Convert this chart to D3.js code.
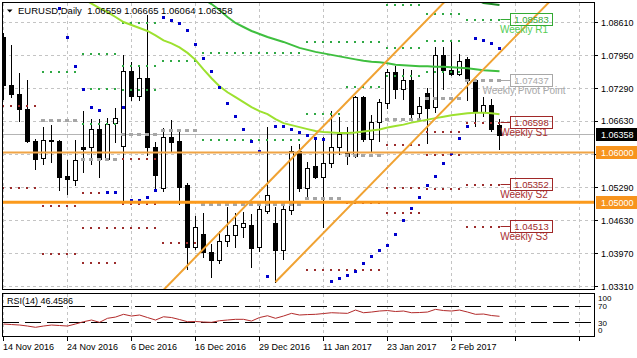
<!DOCTYPE html>
<html><head><meta charset="utf-8">
<script src="https://cdn.jsdelivr.net/npm/d3@7"></script>
<style>html,body{margin:0;padding:0;background:#fff;overflow:hidden}svg{display:block;font-family:"Liberation Sans",Arial,sans-serif}</style>
</head><body><svg id="c" width="637" height="358"></svg>
<script>
// ---------- DATA ----------
const dateLabels = ["14 Nov 2016","24 Nov 2016","6 Dec 2016","16 Dec 2016","29 Dec 2016","11 Jan 2017","23 Jan 2017","2 Feb 2017"];
const dateIdx = [0,8,16,24,32,40,48,56];
const gridIdx = [0,8,16,24,32,40,48,56,64,72];
const priceTicks = [1.0861,1.0795,1.0729,1.0663,1.0597,1.0529,1.0463,1.0397,1.0331];

const open  = [1.0832,1.0735,1.0718,1.0688,1.0624,1.0589,1.0625,1.0624,1.0552,1.0544,1.0612,1.0611,1.0648,1.0587,1.0659,1.0613,1.0763,1.0713,1.0750,1.0611,1.0528,1.0632,1.0624,1.0534,1.0411,1.0437,1.0400,1.0385,1.0423,1.0435,1.0451,1.0455,1.0410,1.0482,1.0458,1.0405,1.0485,1.0603,1.0528,1.0572,1.0550,1.0579,1.0611,1.0599,1.0592,1.0711,1.0628,1.0661,1.0700,1.0761,1.0728,1.0745,1.0679,1.0719,1.0691,1.0795,1.0766,1.0757,1.0787,1.0745,1.0681,1.0696,1.06559];
const high  = [1.0840,1.0815,1.0759,1.0745,1.0628,1.0651,1.0656,1.0626,1.0584,1.0625,1.0684,1.0668,1.0668,1.0670,1.0690,1.0795,1.0781,1.0775,1.0876,1.0621,1.0649,1.0666,1.0648,1.0538,1.0473,1.0479,1.0417,1.0443,1.0490,1.0478,1.0480,1.0477,1.0496,1.0652,1.0490,1.0496,1.0614,1.0618,1.0581,1.0631,1.0631,1.0684,1.0672,1.0651,1.0714,1.0714,1.0676,1.0708,1.0768,1.0773,1.0768,1.0765,1.0711,1.0730,1.0811,1.0811,1.0826,1.0798,1.0791,1.0747,1.0711,1.0708,1.06665];
const low   = [1.0708,1.0711,1.0664,1.0622,1.0567,1.0577,1.0581,1.0524,1.0516,1.0534,1.0560,1.0577,1.0550,1.0584,1.0621,1.0500,1.0705,1.0705,1.0594,1.0524,1.0522,1.0604,1.0496,1.0366,1.0407,1.0390,1.0350,1.0378,1.0413,1.0410,1.0430,1.0370,1.0403,1.0478,1.0340,1.0387,1.0477,1.0522,1.0510,1.0549,1.0451,1.0570,1.0596,1.0577,1.0591,1.0624,1.0604,1.0624,1.0690,1.0710,1.0708,1.0671,1.0668,1.0619,1.0682,1.0728,1.0755,1.0755,1.0705,1.0654,1.0674,1.0644,1.06064];
const close = [1.0735,1.0718,1.0688,1.0624,1.0587,1.0625,1.0623,1.0550,1.0546,1.0585,1.0608,1.0648,1.0587,1.0658,1.0670,1.0763,1.0713,1.0750,1.0611,1.0554,1.0632,1.0621,1.0530,1.0410,1.0450,1.0400,1.0385,1.0423,1.0435,1.0455,1.0458,1.0409,1.0487,1.0515,1.0405,1.0486,1.0603,1.0528,1.0569,1.0550,1.0579,1.0611,1.0638,1.0592,1.0712,1.0628,1.0661,1.0701,1.0761,1.0728,1.0745,1.0678,1.0694,1.0690,1.0795,1.0765,1.0757,1.0783,1.0745,1.0681,1.0696,1.0648,1.06358];

const N = 63;
const maFast = [null,null,null,null,null,null,null,null,null,1.0916,1.0908,1.0899,1.0890,1.0882,1.0872,1.0862,1.0856,1.0850,1.0844,1.0835,1.0825,1.0819,1.0811,1.0800,1.0786,1.0767,1.0749,1.0733,1.0721,1.0711,1.0701,1.0691,1.0683,1.0677,1.0667,1.0659,1.0655,1.0651,1.0647,1.0643,1.0641,1.0640,1.0639,1.0639,1.0640,1.0642,1.0644,1.0646,1.0650,1.0653,1.0656,1.0660,1.0663,1.0666,1.0669,1.0672,1.0675,1.0677,1.0679,1.0680,1.0680,1.0679,1.0677];
const maSlow = [null,null,null,null,null,null,null,null,null,null,null,null,null,null,null,null,null,null,null,null,null,null,null,null,1.0918,1.0908,1.0898,1.0886,1.0872,1.0860,1.0852,1.0844,1.0838,1.0832,1.0827,1.0822,1.0816,1.0810,1.0806,1.0802,1.0799,1.0796,1.0793,1.0790,1.0787,1.0784,1.0782,1.0781,1.0779,1.0776,1.0775,1.0774,1.0773,1.0773,1.0772,1.0772,1.0771,1.0770,1.0769,1.0767,1.0765,1.0764,1.0763];
const maLong = [null,null,null,null,null,null,null,null,null,null,null,null,null,null,null,null,null,null,null,null,null,null,null,null,null,null,null,null,null,null,null,null,null,null,null,null,null,null,null,null,null,null,null,null,null,null,null,null,null,null,null,null,null,null,null,null,null,null,1.0916,1.0908,1.0900,1.0898,1.0896];
const sar = [null,null,null,null,null,null,null,1.0889,1.0830,1.0773,1.0727,1.0690,1.0685,1.0519,1.0520,1.0690,1.0504,1.0504,1.0510,1.0524,1.0872,1.0866,1.0858,1.0844,1.0816,1.0788,1.0763,1.0730,1.0699,1.0673,1.0647,1.0623,1.0603,1.0352,1.0653,1.0653,1.0647,1.0640,1.0635,1.0628,1.0627,1.0342,1.0348,1.0354,1.0362,1.0377,1.0391,1.0403,1.0414,1.0436,1.0463,1.0488,1.0510,1.0533,1.0551,1.0577,1.0599,1.0629,1.0653,1.0828,1.0824,1.0818,1.0809];
const rsi = [27.5,26.2,25,22.5,19.4,22.5,25,23.8,22.5,27.5,33.1,37.3,31.6,41.5,44.6,51.3,47.1,49.6,43.4,37.3,45.3,43.4,38.5,33.1,33.6,32.4,31.6,35.6,37.3,39,39,34.8,43.4,47.8,41.5,47.1,53.7,49.6,50.7,51.3,53.2,55.2,54.4,53.7,61.8,55.2,56.9,59.4,60.6,58.2,59.4,55.2,55.7,56.9,63.5,60.6,59.4,61.8,56.9,51.3,52,48.3,46.4586];

// weekly pivot levels (one entry per week)
const weekStart = [0,5,10,15,20,25,30,34,38,43,48,53,58];
const weekEnd   = [4,9,14,19,24,29,33,37,42,47,52,57,62];
const r3 = [null,null,1.0797,1.0860,null,null,null,null,null,null,1.0896,1.0878,null];
const r2 = [null,null,1.0727,1.0774,null,1.0800,1.0800,1.0800,1.0822,1.0822,1.0809,1.0824,null];
const r1 = [null,1.0762,1.0658,1.0725,1.0784,1.0626,1.0626,1.0626,1.0678,1.0731,1.0753,1.0762,1.0867];
const pp = [null,1.0665,1.0586,1.0636,1.0645,1.0496,1.0496,1.0496,1.0508,1.0593,1.0666,1.0709,1.07437];
const s1 = [1.0693,1.0492,1.0518,1.0586,1.0419,null,null,null,1.0364,1.0498,1.0616,1.0642,1.06598];
const s2 = [1.0528,1.0396,1.0449,1.0497,null,null,null,null,null,1.0364,1.0528,1.0594,1.05352];
const s3 = [null,null,1.0379,1.0448,null,null,null,null,null,null,1.0478,1.0526,1.04513];

const pivotLabelNames  = ["Weekly R1","Weekly Pivot Point","Weekly S1","Weekly S2","Weekly S3"];
const pivotLabelValues = ["1.08583","1.07437","1.06598","1.05352","1.04513"];
const pivotLabelLevels = [r1[12], pp[12], s1[12], s2[12], s3[12]];
const pivotLabelKind   = ["r","p","s","s","s"];

const hLevels = [1.06, 1.05];
const bidPrice = 1.06358;
const channelLow  = [{i:34,p:1.0340},{i:62,p:1.0800}];
const channelHigh = [{i:20,p:1.0324},{i:48,p:1.0785}];
const titleText = "EURUSD,Daily  1.06559 1.06665 1.06064 1.06358";
const rsiText = "RSI(14) 46.4586";
const rsiLevels = [70,30];
const rsiLabels = [100,70,30,0];

// ---------- DRAW ----------
const svg = d3.select('#c');
svg.append('rect').attr('width',637).attr('height',358).attr('fill','#fff');
const x = d3.scaleLinear().domain([0,1]).range([3.5,11.5]);
const y = d3.scaleLinear().domain([1.0331,1.0861]).range([286.5,22.5]);
const yr = d3.scaleLinear().domain([0,100]).range([335.2,294.5]);
const cr = v => Math.round(v-0.5)+0.5;

const defs = svg.append('defs');
defs.append('clipPath').attr('id','cm').append('rect').attr('x',3).attr('y',3).attr('width',591).attr('height',286);
defs.append('clipPath').attr('id','cr').append('rect').attr('x',3).attr('y',294).attr('width',591).attr('height',42);

const gm = svg.append('g').attr('clip-path','url(#cm)');
const gr = svg.append('g').attr('clip-path','url(#cr)');

// grid
const gridColor = '#c4c4c4';
gm.selectAll('line.vg').data(gridIdx).join('line')
  .attr('x1',d=>x(d)).attr('x2',d=>x(d)).attr('y1',3).attr('y2',289)
  .attr('stroke',gridColor).attr('stroke-dasharray','3,3');
gr.selectAll('line.vg').data(gridIdx).join('line')
  .attr('x1',d=>x(d)).attr('x2',d=>x(d)).attr('y1',294).attr('y2',336)
  .attr('stroke',gridColor).attr('stroke-dasharray','3,3');
gm.selectAll('line.hg').data(priceTicks).join('line')
  .attr('x1',3).attr('x2',594).attr('y1',d=>cr(y(d))).attr('y2',d=>cr(y(d)))
  .attr('stroke',gridColor).attr('stroke-dasharray','3,3');
// bid line
gm.append('line').attr('x1',3).attr('x2',594).attr('y1',cr(y(bidPrice))).attr('y2',cr(y(bidPrice)))
  .attr('stroke','#b4b4b4');

// candles
const idx = d3.range(N);
gm.selectAll('line.wick').data(idx).join('line')
  .attr('x1',i=>x(i)).attr('x2',i=>x(i))
  .attr('y1',i=>Math.round(y(high[i]))).attr('y2',i=>Math.round(y(low[i]))+1)
  .attr('stroke','#000');
idx.forEach(i=>{
  const o=open[i], c=close[i];
  const top = Math.round(y(Math.max(o,c))), bot = Math.round(y(Math.min(o,c)));
  if (c>o) {
    gm.append('rect').attr('x',x(i)-2).attr('y',top+0.5).attr('width',4).attr('height',Math.max(bot-top,1))
      .attr('fill','#fff').attr('stroke','#000');
  } else {
    gm.append('rect').attr('x',x(i)-2.5).attr('y',top).attr('width',5).attr('height',Math.max(bot-top,1)+1)
      .attr('fill','#000');
  }
});

// pivot dots
const levelSets = [
  {arr:r3,col:'#2fa845',w:2,h:2},{arr:r2,col:'#2fa845',w:2,h:2},{arr:r1,col:'#2fa845',w:2,h:2},
  {arr:pp,col:'#a6a6a6',w:4,h:3},
  {arr:s1,col:'#9b2c2c',w:2,h:2},{arr:s2,col:'#9b2c2c',w:2,h:2},{arr:s3,col:'#9b2c2c',w:2,h:2}
];
levelSets.forEach(ls=>{
  ls.arr.forEach((v,k)=>{
    if (v==null) return;
    const pts = d3.range(weekStart[k], weekEnd[k]+1);
    gm.selectAll(null).data(pts).join('rect')
      .attr('x',i=>Math.round(x(i)-1-ls.w/2)).attr('y',Math.round(y(v)-ls.h/2))
      .attr('width',ls.w).attr('height',ls.h).attr('fill',ls.col);
  });
});

// moving averages
const mkLine = arr => d3.line().defined(i=>arr[i]!=null).x(i=>x(i)).y(i=>y(arr[i]))(idx);
gm.append('path').attr('d',mkLine(maLong)).attr('fill','none').attr('stroke','#1f8a26').attr('stroke-width',2);
gm.append('path').attr('d',mkLine(maSlow)).attr('fill','none').attr('stroke','#3fbf3f').attr('stroke-width',2);
gm.append('path').attr('d',mkLine(maFast)).attr('fill','none').attr('stroke','#9de12f').attr('stroke-width',2);

// SAR
gm.selectAll('rect.sar').data(idx.filter(i=>sar[i]!=null)).join('rect')
  .attr('x',i=>Math.round(x(i)-1.5)).attr('y',i=>Math.round(y(sar[i])-1.5))
  .attr('width',3).attr('height',3).attr('fill','#0000cc');

// horizontal orange lines
gm.append('line').attr('x1',3).attr('x2',594).attr('y1',y(hLevels[0])).attr('y2',y(hLevels[0]))
  .attr('stroke','#f0a445').attr('stroke-width',2);
gm.append('line').attr('x1',3).attr('x2',594).attr('y1',y(hLevels[1])).attr('y2',y(hLevels[1]))
  .attr('stroke','#fb9a1c').attr('stroke-width',3);

// channel
[channelHigh, channelLow].forEach(ch=>{
  const sl = (ch[1].p-ch[0].p)/(ch[1].i-ch[0].i);
  const iEnd = 80;
  gm.append('line').attr('x1',x(ch[0].i)).attr('y1',y(ch[0].p))
    .attr('x2',x(iEnd)).attr('y2',y(ch[0].p+sl*(iEnd-ch[0].i)))
    .attr('stroke','#f0a232').attr('stroke-width',2);
});

// pivot labels
const kindCol = {r:'#33aa33', p:'#a8a8a8', s:'#a02828'};
const kindTxt = {r:'#55cc55', p:'#a8a8a8', s:'#a83030'};
pivotLabelNames.forEach((nm,k)=>{
  const yy = cr(y(pivotLabelLevels[k]));
  const col = kindCol[pivotLabelKind[k]];
  gm.append('text').attr('x',524).attr('y',yy+9.5).attr('text-anchor','middle').attr('dominant-baseline','central')
    .attr('font-size','10px').attr('fill',kindTxt[pivotLabelKind[k]]).text(nm);
  gm.append('line').attr('x1',x(62)+1).attr('x2',510).attr('y1',yy).attr('y2',yy).attr('stroke',col);
  gm.append('rect').attr('x',510.5).attr('y',yy-6).attr('width',42).attr('height',12)
    .attr('fill','none').attr('stroke',col);
  gm.append('text').attr('x',531.5).attr('y',yy-0.5).attr('text-anchor','middle').attr('dominant-baseline','central')
    .attr('font-size','9.5px').attr('fill',col).text(pivotLabelValues[k]);
});

// RSI
gr.selectAll('line.lv').data(rsiLevels).join('line')
  .attr('x1',3).attr('x2',594).attr('y1',d=>cr(yr(d))).attr('y2',d=>cr(yr(d)))
  .attr('stroke','#000').attr('stroke-dasharray','16,6');
gr.append('path').attr('d',d3.line().x(i=>x(i)).y(i=>yr(rsi[i]))(idx))
  .attr('fill','none').attr('stroke','#b22a2a').attr('stroke-width',1);

// frames
svg.append('rect').attr('x',2.5).attr('y',2.5).attr('width',592).attr('height',287).attr('fill','none').attr('stroke','#000');
svg.append('rect').attr('x',2.5).attr('y',293.5).attr('width',592).attr('height',43).attr('fill','none').attr('stroke','#000');

// right price axis
const fmt = d3.format('.5f');
svg.selectAll('line.pt').data(priceTicks).join('line')
  .attr('x1',595).attr('x2',598).attr('y1',d=>cr(y(d))).attr('y2',d=>cr(y(d))).attr('stroke','#000');
svg.selectAll('text.pt').data(priceTicks).join('text')
  .attr('x',601).attr('y',d=>y(d)+3.3).attr('font-size','9px').attr('fill','#000').text(d=>fmt(d));
// special boxes
const boxes = [{p:bidPrice,fill:'#000'},{p:hLevels[0],fill:'#f7941d'},{p:hLevels[1],fill:'#f7941d'}];
boxes.forEach(b=>{
  const yy = y(b.p);
  svg.append('rect').attr('x',596).attr('y',Math.round(yy-6.5)).attr('width',41).attr('height',13).attr('fill',b.fill);
  svg.append('text').attr('x',601).attr('y',yy+3.3).attr('font-size','9px').attr('fill','#fff').text(fmt(b.p));
});
// RSI axis labels
const rsiLabelY = {100:298.5, 70:306, 30:323, 0:330.5};
svg.selectAll('text.rl').data(rsiLabels).join('text')
  .attr('x',598).attr('y',d=>rsiLabelY[d]+2.8).attr('font-size','8px').attr('fill','#000').text(d=>d);

// bottom date axis
svg.selectAll('line.dt').data(gridIdx).join('line')
  .attr('x1',d=>x(d)).attr('x2',d=>x(d)).attr('y1',337).attr('y2',341).attr('stroke','#000');
svg.selectAll('text.dl').data(dateIdx).join('text')
  .attr('x',(d)=>x(d)-0.5).attr('y',350).attr('font-size','9px').attr('fill','#000')
  .text((d,k)=>dateLabels[k]);

// title
svg.append('path').attr('d','M7,9.5L12.5,9.5L9.75,12.5Z').attr('fill','#000');
svg.append('text').attr('x',18).attr('y',14).attr('font-size','9.5px').attr('fill','#000')
  .attr('xml:space','preserve').style('white-space','pre').text(titleText);
svg.append('text').attr('x',7).attr('y',303.5).attr('font-size','9px').attr('fill','#000').text(rsiText);
</script></body></html>
